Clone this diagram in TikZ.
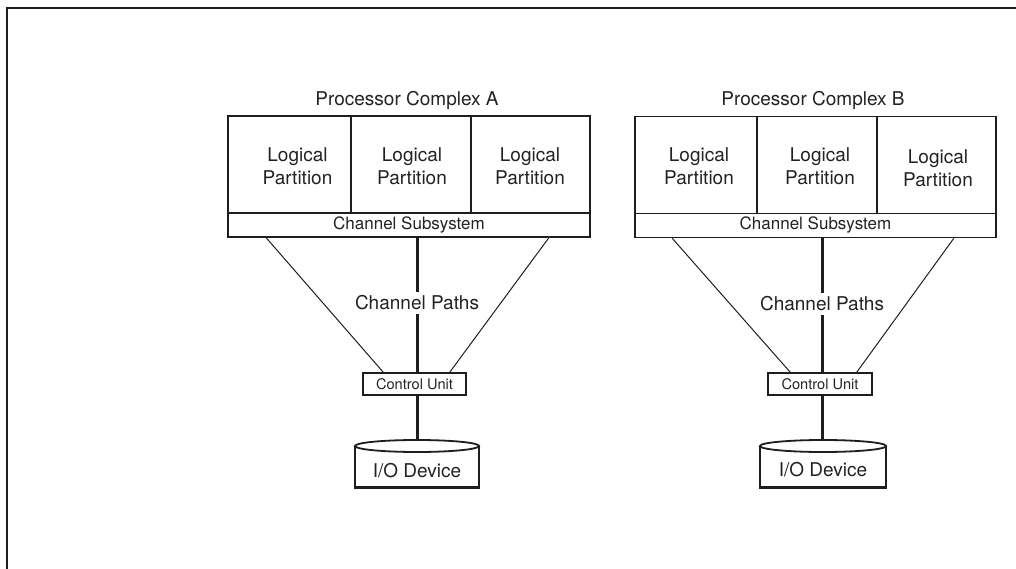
\documentclass[tikz,border=0pt]{standalone}
\usepackage{fontspec}
\setmainfont{TeX Gyre Heros}
\definecolor{ln}{HTML}{1E1E1E}
\definecolor{tx}{HTML}{222222}
\begin{document}
\begin{tikzpicture}[x=1pt,y=-1pt,
  part/.style={draw=ln,line width=1.6pt,inner sep=0pt,minimum height=97pt},
  csbox/.style={draw=ln,line width=1.6pt,inner sep=0pt,minimum height=24pt,font=\fontsize{17}{20}\selectfont,text=tx},
  cubox/.style={draw=ln,line width=1.3pt,inner sep=0pt,minimum width=103pt,minimum height=22pt,font=\fontsize{14.6}{17}\selectfont,text=tx},
  lbl/.style={font=\fontsize{19}{23}\selectfont,text=tx,align=center,inner sep=0pt},
  pathlbl/.style={font=\fontsize{19}{23}\selectfont,text=tx,fill=white,inner sep=4pt},
  thin/.style={draw=ln,line width=1pt},
  thick/.style={draw=ln,line width=3pt},
  cyl/.style={draw=ln,line width=1.8pt}]
\useasboundingbox (0,0) rectangle (1016,569);
% frame
\draw[draw=ln,line width=2pt] (7,569) -- (7,8) -- (1016,8);

% ===== Complex A =====
\node[lbl] (tA) at (407,100) {Processor Complex A};
\node[part,minimum width=123pt] (pA1) at (289.5,164.5) {};
\node[part,minimum width=120pt] (pA2) at (411,164.5) {};
\node[part,minimum width=119pt] (pA3) at (530.5,164.5) {};
\node[lbl] (lA1) at (297.5,166) {Logical\\Partition};
\node[lbl] (lA2) at (412,166) {Logical\\Partition};
\node[lbl] (lA3) at (530,166) {Logical\\Partition};
\node[csbox,minimum width=362pt] (csA) at (409,225) {Channel Subsystem};
\node[cubox] (cuA) at (414.5,384) {Control Unit};
\draw[thin] ([xshift=39pt]csA.south west) -- ([xshift=21pt]cuA.north west);
\draw[thin] ([xshift=-42pt]csA.south east) -- ([xshift=-17pt]cuA.north east);
\coordinate (mA) at (417,237);
\draw[thick] (mA) -- (mA |- cuA.north);
\node[pathlbl] (cpA) at (417,303) {Channel Paths};
% device A
\coordinate (topA) at (417,440);
\draw[thick] (topA |- cuA.south) -- (topA);
\draw[cyl] (355,446) -- (355,487);
\draw[cyl] (479,446) -- (479,487);
\draw[draw=ln,line width=3pt] (354.1,487) -- (479.9,487);
\draw[cyl,fill=white] (417,446) ellipse (62pt and 6pt);
\node[lbl] (dA) at (417,471) {I/O Device};

% ===== Complex B =====
\node[lbl] (tB) at (813,100) {Processor Complex B};
\node[part,minimum width=122pt,line width=1.3pt] (pB1) at (696,165) {};
\node[part,minimum width=120pt,line width=1.3pt] (pB2) at (817,165) {};
\node[part,minimum width=119pt,line width=1.3pt] (pB3) at (936.5,165) {};
\node[lbl] (lB1) at (699,166) {Logical\\Partition};
\node[lbl] (lB2) at (820,166) {Logical\\Partition};
\node[lbl] (lB3) at (938,168) {Logical\\Partition};
\node[csbox,minimum width=361pt] (csB) at (815.5,225.5) {Channel Subsystem};
\node[cubox,minimum width=104pt] (cuB) at (820,384) {Control Unit};
\draw[thin] ([xshift=38pt]csB.south west) -- ([xshift=23pt]cuB.north west);
\draw[thin] ([xshift=-43pt]csB.south east) -- ([xshift=-16pt]cuB.north east);
\coordinate (mB) at (822,237.5);
\draw[thick] (mB) -- (mB |- cuB.north);
\node[pathlbl] (cpB) at (822,304) {Channel Paths};
% device B
\coordinate (topB) at (822,440);
\draw[thick] (topB |- cuB.south) -- (topB);
\draw[cyl] (760,446) -- (760,487);
\draw[cyl] (886,446) -- (886,487);
\draw[draw=ln,line width=3pt] (759.1,487) -- (886.9,487);
\draw[cyl,fill=white] (823,446) ellipse (63pt and 6pt);
\node[lbl] (dB) at (823,470) {I/O Device};
\end{tikzpicture}
\end{document}
